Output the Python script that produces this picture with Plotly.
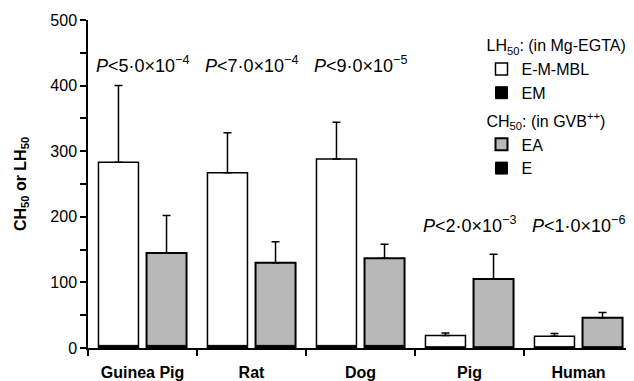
import plotly.graph_objects as go

species = ["Guinea Pig", "Rat", "Dog", "Pig", "Human"]
lh50_emmbl = [283, 267, 288, 19, 18]
lh50_emmbl_err = [117, 61, 56, 4, 4]
lh50_em = [4, 4, 4, 2, 2]
ch50_ea = [145, 130, 137, 105, 46]
ch50_ea_err = [57, 32, 21, 38, 8]
ch50_e = [4, 4, 4, 2, 2]
p_labels = ["5·0×10<sup>−4</sup>", "7·0×10<sup>−4</sup>", "9·0×10<sup>−5</sup>",
            "2·0×10<sup>−3</sup>", "1·0×10<sup>−6</sup>"]
p_heights = [432, 432, 432, 188, 188]

FONT = "Liberation Sans, Arial, Helvetica, sans-serif"
W = 0.367
OFF_L = -0.404
OFF_R = 0.037

fig = go.Figure()
fig.add_trace(go.Bar(
    x=species, y=lh50_emmbl, name="E-M-MBL", width=W, offset=OFF_L,
    marker=dict(color="white", line=dict(color="black", width=1.5)),
    error_y=dict(type="data", symmetric=False, array=lh50_emmbl_err,
                 arrayminus=[0]*5, color="black", thickness=1.5, width=4),
    legendgroup="lh",
    legendgrouptitle=dict(text="LH<sub>50</sub>: (in Mg-EGTA)", font=dict(family=FONT, size=16)),
))
fig.add_trace(go.Bar(
    x=species, y=lh50_em, name="EM", width=W, offset=OFF_L,
    marker=dict(color="black", line=dict(color="black", width=1)),
    legendgroup="lh",
))
fig.add_trace(go.Bar(
    x=species, y=ch50_ea, name="EA", width=W, offset=OFF_R,
    marker=dict(color="#c2c2c2", line=dict(color="black", width=2),
                pattern=dict(shape=".", bgcolor="#cbcbcb", fgcolor="#a0a0a0",
                             size=2, solidity=0.5, fillmode="replace")),
    error_y=dict(type="data", symmetric=False, array=ch50_ea_err,
                 arrayminus=[0]*5, color="black", thickness=1.5, width=4),
    legendgroup="ch",
    legendgrouptitle=dict(text="CH<sub>50</sub>: (in GVB<sup>++</sup>)", font=dict(family=FONT, size=16)),
))
fig.add_trace(go.Bar(
    x=species, y=ch50_e, name="E", width=W, offset=OFF_R,
    marker=dict(color="black", line=dict(color="black", width=1)),
    legendgroup="ch",
))

for sp, lab, h in zip(species, p_labels, p_heights):
    fig.add_annotation(x=sp, y=h, xref="x", yref="y", text="<i>P</i><" + lab,
                       showarrow=False, xanchor="center", yanchor="middle",
                       font=dict(family=FONT, size=18, color="black"))

# page body has an 8px default margin: size the figure so it fits the 634x381 window
fig.update_layout(
    template="none",
    width=626, height=373,
    margin=dict(l=80, r=1, t=12, b=33, autoexpand=False),
    paper_bgcolor="white", plot_bgcolor="white",
    barmode="overlay",
    font=dict(family=FONT, size=15, color="black"),
    showlegend=True,
    legend=dict(x=0.722, y=0.975, xanchor="left", yanchor="top",
                font=dict(family=FONT, size=16), tracegroupgap=4,
                bgcolor="rgba(0,0,0,0)", borderwidth=0, itemwidth=30),
)
fig.update_xaxes(
    automargin=False,
    showline=True, linecolor="black", linewidth=1.5,
    ticks="outside", tickson="boundaries", ticklen=6, tickwidth=1.5, tickcolor="black",
    ticklabelstandoff=9,
    tickfont=dict(family=FONT, size=16, color="black", weight="bold"),
    showgrid=False, zeroline=False,
)
fig.update_yaxes(
    automargin=False,
    range=[0, 500], showline=True, linecolor="black", linewidth=1.5,
    ticks="outside", ticklen=6, tickwidth=1.5, tickcolor="black", dtick=100,
    minor=dict(dtick=50, ticks="outside", ticklen=6, tickwidth=1.5, tickcolor="black", showgrid=False),
    tickfont=dict(family=FONT, size=16, color="black"),
    showgrid=False, zeroline=False,
    title=dict(text="<b>CH<sub>50</sub> or LH<sub>50</sub></b>", font=dict(family=FONT, size=16), standoff=20),
)

fig.write_html("out.html")
